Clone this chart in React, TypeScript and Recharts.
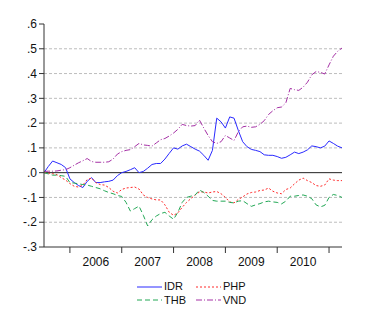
import { LineChart, Line, XAxis, YAxis, CartesianGrid, ReferenceLine } from 'recharts';

// monthly observations, 2005M07 .. 2011M04 (index 0 = Jul 2005)
const idr = [
  0, 0.025, 0.047, 0.04, 0.033, 0.02, -0.025, -0.04, -0.052, -0.06,
  -0.035, -0.02, -0.04, -0.04, -0.037, -0.035, -0.03, -0.012, 0, 0.005,
  0.012, 0.02, 0, 0.005, 0.018, 0.033, 0.037, 0.037, 0.055, 0.078,
  0.1, 0.095, 0.108, 0.115, 0.105, 0.095, 0.087, 0.07, 0.05, 0.09,
  0.22, 0.205, 0.18, 0.225, 0.22, 0.17, 0.125, 0.105, 0.094, 0.09,
  0.085, 0.072, 0.07, 0.07, 0.065, 0.058, 0.062, 0.072, 0.083, 0.077,
  0.083, 0.092, 0.108, 0.105, 0.1, 0.107, 0.128, 0.118, 0.107, 0.1,
];
const php = [
  0, -0.002, -0.004, -0.008, -0.02, -0.03, -0.044, -0.055, -0.058, -0.05,
  -0.028, -0.022, -0.04, -0.048, -0.05, -0.06, -0.075, -0.082, -0.068, -0.062,
  -0.06, -0.058, -0.066, -0.09, -0.1, -0.106, -0.11, -0.11, -0.13, -0.16,
  -0.172, -0.162, -0.14, -0.12, -0.105, -0.09, -0.078, -0.078, -0.082, -0.078,
  -0.076, -0.085, -0.1, -0.118, -0.122, -0.108, -0.098, -0.086, -0.08, -0.078,
  -0.072, -0.07, -0.062, -0.075, -0.082, -0.085, -0.068, -0.062, -0.045, -0.03,
  -0.022, -0.032, -0.04, -0.052, -0.055, -0.05, -0.025, -0.03, -0.032, -0.032,
];
const thb = [
  0, -0.005, -0.01, -0.01, -0.012, -0.015, -0.04, -0.042, -0.045, -0.048,
  -0.05, -0.055, -0.06, -0.065, -0.073, -0.08, -0.085, -0.092, -0.096, -0.12,
  -0.155, -0.145, -0.135, -0.172, -0.215, -0.19, -0.175, -0.165, -0.16, -0.175,
  -0.188, -0.16, -0.12, -0.1, -0.095, -0.09, -0.07, -0.08, -0.095, -0.112,
  -0.115, -0.115, -0.115, -0.12, -0.122, -0.115, -0.113, -0.125, -0.136, -0.13,
  -0.125, -0.118, -0.115, -0.118, -0.12, -0.126, -0.115, -0.095, -0.095, -0.092,
  -0.09, -0.095, -0.105, -0.13, -0.138, -0.132, -0.1, -0.088, -0.092, -0.1,
];
const vnd = [
  0.005, 0.006, 0.006, 0.007, 0.01, 0.012, 0.02, 0.03, 0.04, 0.048,
  0.057, 0.045, 0.042, 0.042, 0.042, 0.044, 0.055, 0.075, 0.085, 0.09,
  0.093, 0.105, 0.118, 0.112, 0.11, 0.107, 0.12, 0.133, 0.138, 0.148,
  0.16, 0.175, 0.195, 0.19, 0.188, 0.19, 0.212, 0.18, 0.15, 0.125,
  0.118, 0.125, 0.15, 0.14, 0.13, 0.165, 0.185, 0.188, 0.183, 0.185,
  0.195, 0.21, 0.235, 0.25, 0.262, 0.265, 0.282, 0.34, 0.335, 0.332,
  0.345, 0.365, 0.395, 0.408, 0.405, 0.398, 0.435, 0.47, 0.49, 0.503,
];

const yTicks = [-0.3, -0.2, -0.1, 0, 0.1, 0.2, 0.3, 0.4, 0.5, 0.6];
const gridValues = [-0.2, -0.1, 0.1, 0.2, 0.3, 0.4, 0.5];
const yearBreaks = [6, 18, 30, 42, 54, 66]; // January of each year
const yearMids = [12, 24, 36, 48, 60];
const yearLabels = ['2006', '2007', '2008', '2009', '2010'];

const series = [
  { key: 'IDR', color: '#2a2aff', dash: undefined as string | undefined },
  { key: 'PHP', color: '#ff2a2a', dash: '2 2' },
  { key: 'THB', color: '#22a855', dash: '5 3' },
  { key: 'VND', color: '#a530a5', dash: '6 2 1 2' },
];

const data = idr.map((v, i) => ({
  t: i,
  IDR: v,
  PHP: php[i],
  THB: thb[i],
  VND: vnd[i],
}));

const font = '"Liberation Sans", Arial, sans-serif';

const fmtY = (v: number) => v.toFixed(1).replace('0.', '.');

// tick marks only, the year labels sit on a second axis between them
const NoLabel = () => <g />;

function LegendItem({ s }: { s: (typeof series)[number] }) {
  return (
    <div style={{ display: 'flex', alignItems: 'center', height: 13.5 }}>
      <svg width={27} height={10} style={{ display: 'block' }}>
        <line x1={0} y1={5} x2={25} y2={5} stroke={s.color} strokeWidth={1} strokeDasharray={s.dash} />
      </svg>
      <span style={{ fontSize: 11, fontFamily: font, color: '#111', lineHeight: '11px' }}>{s.key}</span>
    </div>
  );
}

export default function App() {
  return (
    <div style={{ position: 'absolute', left: 0, top: 0, width: 377, height: 330, background: '#fff' }}>
      <LineChart width={377} height={330} data={data} margin={{ top: 24, right: 35, left: 0, bottom: 62 }}>
        <CartesianGrid horizontal vertical={false} horizontalValues={gridValues} stroke="#bdbdbd" strokeDasharray="3 2" />
        <XAxis
          xAxisId="breaks"
          dataKey="t"
          type="number"
          domain={[0, 69]}
          ticks={yearBreaks}
          interval={0}
          tick={NoLabel}
          tickSize={6}
          height={1}
          axisLine={{ stroke: '#333' }}
          tickLine={{ stroke: '#333' }}
        />
        <XAxis
          xAxisId="labels"
          dataKey="t"
          type="number"
          domain={[0, 69]}
          ticks={yearMids}
          tickFormatter={(v: number) => yearLabels[yearMids.indexOf(v)] ?? ''}
          axisLine={false}
          tickLine={false}
          tickSize={7}
          tickMargin={2}
          height={20}
          interval={0}
          tick={{ fill: '#111', fontSize: 12, fontFamily: font }}
        />
        <YAxis
          type="number"
          domain={[-0.3, 0.6]}
          ticks={yTicks}
          interval={0}
          width={44}
          tickFormatter={fmtY}
          tickSize={5}
          tickMargin={2}
          axisLine={{ stroke: '#333' }}
          tickLine={{ stroke: '#333' }}
          tick={{ fill: '#111', fontSize: 12, fontFamily: font }}
        />
        <ReferenceLine xAxisId="breaks" y={0} stroke="#222" strokeWidth={1} />
        {series.map((s) => (
          <Line
            key={s.key}
            xAxisId="breaks"
            dataKey={s.key}
            type="linear"
            stroke={s.color}
            strokeWidth={1}
            strokeDasharray={s.dash}
            dot={false}
            isAnimationActive={false}
          />
        ))}
      </LineChart>
      <div
        style={{
          position: 'absolute',
          left: 137,
          top: 280,
          display: 'grid',
          gridTemplateColumns: '59px 59px',
        }}
      >
        <LegendItem s={series[0]} />
        <LegendItem s={series[1]} />
        <LegendItem s={series[2]} />
        <LegendItem s={series[3]} />
      </div>
    </div>
  );
}
